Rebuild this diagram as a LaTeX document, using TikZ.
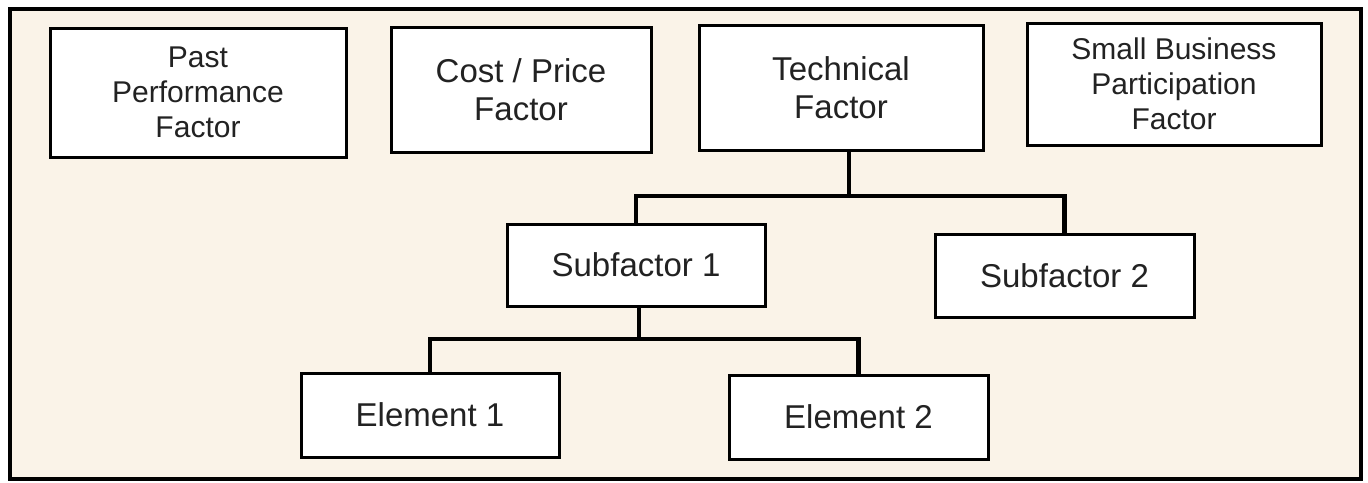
\documentclass[tikz,border=0pt]{standalone}
\usepackage{fontspec}
\setmainfont{Liberation Sans}
\definecolor{bgbeige}{HTML}{FAF3E8}
\definecolor{txt}{HTML}{222222}
\begin{document}
\begin{tikzpicture}[x=1pt,y=-1pt,
  box/.style={draw=black,line width=3pt,fill=white,rectangle,inner sep=0pt,align=center,text=txt},
  small/.style={font=\fontsize{30}{35}\selectfont},
  big/.style={font=\fontsize{33}{38}\selectfont},
  link/.style={draw=black,line width=4.5pt}]
\useasboundingbox (0,0) rectangle (1368,482);
\fill[white] (0,0) rectangle (1368,482);
\draw[line width=4pt,fill=bgbeige] (10,9) rectangle (1361,479);
\node[box,small,minimum width=296pt,minimum height=129pt] (pp) at (198,92.5) {Past\\Performance\\Factor};
\node[box,big,minimum width=260pt,minimum height=125pt] (cp) at (521,89.5) {Cost / Price\\Factor};
\node[box,big,minimum width=284pt,minimum height=125pt] (tf) at (841,87.5) {Technical\\Factor};
\node[box,small,minimum width=294pt,minimum height=122pt] (sb) at (1174,84) {Small Business\\Participation\\Factor};
\node[box,big,minimum width=258pt,minimum height=82pt] (s1) at (636,265) {Subfactor 1};
\node[box,big,minimum width=259pt,minimum height=83pt] (s2) at (1064.5,275.5) {Subfactor 2};
\node[box,big,minimum width=258pt,minimum height=84pt] (e1) at (430,415) {Element 1};
\node[box,big,minimum width=259pt,minimum height=84pt] (e2) at (858.5,417) {Element 2};
\coordinate (j1) at (849,196);
\coordinate (j2) at (639,339);
\draw[link] (tf.south -| j1) -- (j1);
\draw[link] (s1.north) |- (j1) -| (s2.north);
\draw[link] (s1.south -| j2) -- (j2);
\draw[link] (e1.north) |- (j2) -| (e2.north);
\end{tikzpicture}
\end{document}
